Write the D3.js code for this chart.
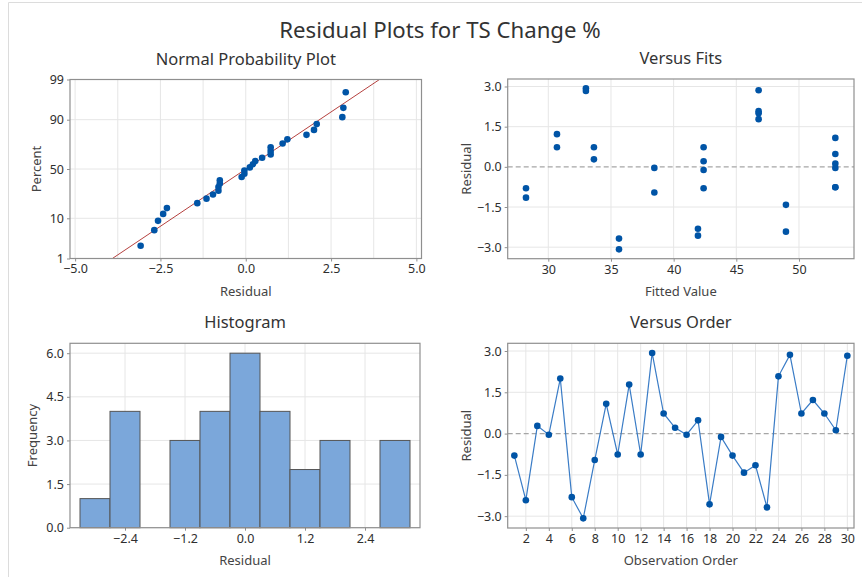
<!DOCTYPE html>
<html><head><meta charset="utf-8">
<script src="https://cdn.jsdelivr.net/npm/d3@7"></script>
<style>
html,body{margin:0;padding:0;background:#fff;}
svg text{font-family:"Noto Sans","Open Sans",sans-serif;}
</style></head>
<body>
<svg id="c" width="862" height="577"></svg>
<script>
// ---------- DATA ----------
const observation = d3.range(1, 31);
const residuals = [-0.80, -2.42, 0.28, -0.04, 2.00, -2.31, -3.08, -0.96, 1.08, -0.76,
                    1.78, -0.76, 2.93, 0.73, 0.21, -0.04, 0.48, -2.57, -0.12, -0.80,
                   -1.42, -1.15, -2.68, 2.08, 2.86, 0.73, 1.22, 0.73, 0.12, 2.83];
const fitted = [28.22, 48.96, 33.64, 38.46, 46.78, 41.94, 35.64, 38.46, 52.90, 52.90,
                46.78, 52.90, 33.00, 30.69, 42.39, 52.90, 52.90, 41.94, 42.39, 42.39,
                48.96, 28.22, 35.64, 46.78, 46.78, 33.64, 30.69, 42.39, 52.90, 33.00];
const histMids = [-3.0, -2.4, -1.8, -1.2, -0.6, 0.0, 0.6, 1.2, 1.8, 2.4, 3.0];
const histCounts = [1, 4, 0, 3, 4, 6, 4, 2, 3, 0, 3];
const histWidth = 0.6;
const nppXTicks = [-5.0, -2.5, 0.0, 2.5, 5.0];
const nppXGrid = [-5, -3.75, -2.5, -1.25, 0, 1.25, 2.5, 3.75, 5];
const nppYTicks = [1, 10, 50, 90, 99];
const residTicks = [-3.0, -1.5, 0.0, 1.5, 3.0];
const fitTicks = [30, 35, 40, 45, 50];
const histXTicks = [-2.4, -1.2, 0.0, 1.2, 2.4];
const histYTicks = [0.0, 1.5, 3.0, 4.5, 6.0];
const orderTicks = d3.range(2, 31, 2);

// ---------- HELPERS ----------
function normInv(p){
  const a=[-3.969683028665376e+01,2.209460984245205e+02,-2.759285104469687e+02,1.383577518672690e+02,-3.066479806614716e+01,2.506628277459239e+00];
  const b=[-5.447609879822406e+01,1.615858368580409e+02,-1.556989798598866e+02,6.680131188771972e+01,-1.328068155288572e+01];
  const c=[-7.784894002430293e-03,-3.223964580411365e-01,-2.400758277161838e+00,-2.549732539343734e+00,4.374664141464968e+00,2.938163982698783e+00];
  const d=[7.784695709041462e-03,3.224671290700398e-01,2.445134137142996e+00,3.754408661907416e+00];
  const pl=0.02425, ph=1-pl; let q,r;
  if(p<pl){q=Math.sqrt(-2*Math.log(p));return (((((c[0]*q+c[1])*q+c[2])*q+c[3])*q+c[4])*q+c[5])/((((d[0]*q+d[1])*q+d[2])*q+d[3])*q+1);}
  if(p<=ph){q=p-0.5;r=q*q;return (((((a[0]*r+a[1])*r+a[2])*r+a[3])*r+a[4])*r+a[5])*q/(((((b[0]*r+b[1])*r+b[2])*r+b[3])*r+b[4])*r+1);}
  q=Math.sqrt(-2*Math.log(1-p));return -(((((c[0]*q+c[1])*q+c[2])*q+c[3])*q+c[4])*q+c[5])/((((d[0]*q+d[1])*q+d[2])*q+d[3])*q+1);
}

const svg = d3.select("#c");
const TXT = "#2e2e2e", GRID = "#e6e6e6", FRAME = "#8f8f8f", BLUE = "#0054a6";

// outer border
svg.append("line").attr("x1",8.5).attr("x2",8.5).attr("y1",2.5).attr("y2",577).attr("stroke","#dcdcdc");
svg.append("line").attr("x1",8.5).attr("x2",862).attr("y1",2.5).attr("y2",2.5).attr("stroke","#dcdcdc");

svg.append("text").attr("x",440).attr("y",38).attr("text-anchor","middle")
  .attr("font-size",22.2).attr("fill","#333").text("Residual Plots for TS Change %");

function panel(opt){
  const g = svg.append("g");
  const x = opt.x, y = opt.y;
  const [x0,x1] = x.range(), [y1,y0] = y.range();
  g.selectAll(".vg").data(opt.xGrid).join("line")
    .attr("x1",d=>x(d)).attr("x2",d=>x(d)).attr("y1",y0).attr("y2",y1)
    .attr("stroke",GRID).attr("stroke-width",1);
  g.selectAll(".hg").data(opt.yGrid).join("line")
    .attr("x1",x0).attr("x2",x1).attr("y1",d=>y(d)).attr("y2",d=>y(d))
    .attr("stroke",GRID).attr("stroke-width",1);
  const ax = g.append("g").attr("transform",`translate(0,${y1})`)
    .call(d3.axisBottom(x).tickValues(opt.xTicks).tickFormat(opt.xFmt).tickSize(3).tickSizeOuter(0).tickPadding(3));
  const ay = g.append("g").attr("transform",`translate(${x0},0)`)
    .call(d3.axisLeft(y).tickValues(opt.yTicks).tickFormat(opt.yFmt).tickSize(3).tickSizeOuter(0).tickPadding(3));
  [ax,ay].forEach(a=>{
    a.select(".domain").remove();
    a.selectAll("line").attr("stroke",FRAME);
    a.selectAll("text").attr("font-size",12.5).attr("fill",TXT).style("font-family",'"Noto Sans","Open Sans",sans-serif');
  });
  svg.append("text").attr("x",(x0+x1)/2).attr("y",y0-15).attr("text-anchor","middle")
    .attr("font-size",16.5).attr("fill","#333").text(opt.title);
  svg.append("text").attr("x",(x0+x1)/2).attr("y",y1+37).attr("text-anchor","middle")
    .attr("font-size",13).attr("fill","#444").text(opt.xLabel);
  svg.append("text").attr("transform",`translate(${x0-opt.yLabOff},${(y0+y1)/2}) rotate(-90)`).attr("text-anchor","middle")
    .attr("font-size",13).attr("fill","#444").text(opt.yLabel);
  const plot = g.append("g");
  g.append("rect").attr("x",x0).attr("y",y0).attr("width",x1-x0).attr("height",y1-y0)
    .attr("fill","none").attr("stroke",FRAME).attr("stroke-width",1.2);
  return plot;
}

// ---------- 1. Normal probability plot ----------
{
  const n = residuals.length;
  const sorted = residuals.slice().sort((a,b)=>a-b);
  const pts = sorted.map((r,i)=>({r, p:(i+1-0.3)/(n+0.4)}));
  const mu = d3.mean(residuals), sd = d3.deviation(residuals);
  const x = d3.scaleLinear().domain([-5.15,5.15]).range([70,421.5]);
  const y = d3.scaleLinear().domain([normInv(0.01),normInv(0.99)]).range([258.5,79.5]);
  const plot = panel({x, y, xGrid:nppXGrid, yGrid:nppYTicks.map(p=>normInv(p/100)),
    xTicks:nppXTicks, xFmt:d3.format(".1f"), yTicks:nppYTicks.map(p=>normInv(p/100)),
    yFmt:(d,i)=>nppYTicks[i], title:"Normal Probability Plot", xLabel:"Residual", yLabel:"Percent", yLabOff:29});
  const zLo = y.domain()[0], zHi = y.domain()[1];
  plot.append("line").attr("x1",x(mu+sd*zLo)).attr("y1",y(zLo)).attr("x2",x(mu+sd*zHi)).attr("y2",y(zHi))
    .attr("stroke","#b5413f").attr("stroke-width",1);
  plot.selectAll("circle").data(pts).join("circle")
    .attr("cx",d=>x(d.r)).attr("cy",d=>y(normInv(d.p))).attr("r",3.3).attr("fill",BLUE);
}

// ---------- 2. Versus fits ----------
{
  const x = d3.scaleLinear().domain([26.76,54.39]).range([507.7,854]);
  const y = d3.scaleLinear().domain([-3.43,3.28]).range([258.7,79]);
  const plot = panel({x,y,xGrid:fitTicks,yGrid:residTicks.filter(d=>d!==0),xTicks:fitTicks,xFmt:d3.format("d"),
    yTicks:residTicks,yFmt:d3.format(".1f"),title:"Versus Fits",xLabel:"Fitted Value",yLabel:"Residual",yLabOff:37});
  plot.append("line").attr("x1",507.7).attr("x2",854).attr("y1",y(0)).attr("y2",y(0))
    .attr("stroke","#a6a6a6").attr("stroke-dasharray","5,3").attr("stroke-width",1.2);
  plot.selectAll("circle").data(observation).join("circle")
    .attr("cx",i=>x(fitted[i-1])).attr("cy",i=>y(residuals[i-1])).attr("r",3.3).attr("fill",BLUE);
}

// ---------- 3. Histogram ----------
{
  const x = d3.scaleLinear().domain([-3.5,3.5]).range([70,420]);
  const y = d3.scaleLinear().domain([0,6.34]).range([527.7,343.3]);
  const plot = panel({x,y,xGrid:histXTicks,yGrid:histYTicks,xTicks:histXTicks,xFmt:d3.format(".1f"),
    yTicks:histYTicks,yFmt:d3.format(".1f"),title:"Histogram",xLabel:"Residual",yLabel:"Frequency",yLabOff:33});
  plot.selectAll("rect").data(histMids.map((m,i)=>({m,c:histCounts[i]})).filter(d=>d.c>0)).join("rect")
    .attr("x",d=>x(d.m-histWidth/2)).attr("width",d=>x(d.m+histWidth/2)-x(d.m-histWidth/2))
    .attr("y",d=>y(d.c)).attr("height",d=>y(0)-y(d.c))
    .attr("fill","#7ba7da").attr("stroke","#555").attr("stroke-width",1);
}

// ---------- 4. Versus order ----------
{
  const x = d3.scaleLinear().domain([0.42,30.58]).range([507.7,854]);
  const y = d3.scaleLinear().domain([-3.43,3.28]).range([528,343.3]);
  const plot = panel({x,y,xGrid:orderTicks,yGrid:residTicks.filter(d=>d!==0),xTicks:orderTicks,xFmt:d3.format("d"),
    yTicks:residTicks,yFmt:d3.format(".1f"),title:"Versus Order",xLabel:"Observation Order",yLabel:"Residual",yLabOff:37});
  plot.append("line").attr("x1",507.7).attr("x2",854).attr("y1",y(0)).attr("y2",y(0))
    .attr("stroke","#a6a6a6").attr("stroke-dasharray","5,3").attr("stroke-width",1.2);
  plot.append("path").datum(observation)
    .attr("d",d3.line().x(i=>x(i)).y(i=>y(residuals[i-1])))
    .attr("fill","none").attr("stroke","#3a7cc6").attr("stroke-width",1.2);
  plot.selectAll("circle").data(observation).join("circle")
    .attr("cx",i=>x(i)).attr("cy",i=>y(residuals[i-1])).attr("r",3.3).attr("fill",BLUE);
}
</script>
</body></html>
